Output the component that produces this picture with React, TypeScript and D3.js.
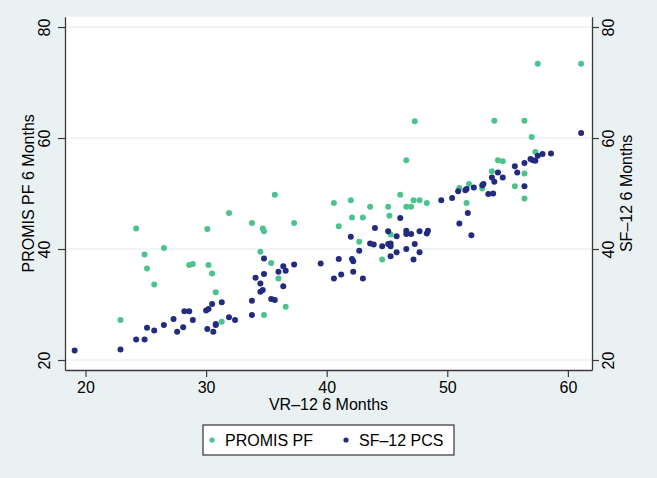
import { useEffect, useRef } from 'react';
import * as d3 from 'd3';

// PROMIS PF 6 months vs VR-12 6 months
const promisX = [24.2, 30.1, 26.5, 24.9, 25.1, 28.6, 28.9, 30.2, 30.5, 25.7, 22.9, 30.8, 31.3, 31.9, 33.8, 34.7, 34.8, 35.7, 37.3, 34.5,
  35.4, 36.0, 34.8, 36.6, 40.6, 41.0, 42.0, 42.1, 43.0, 43.6, 45.1, 45.2, 46.1, 46.6, 47.0, 47.2, 47.7, 48.3, 42.7, 45.3,
  44.6, 47.3, 46.6, 51.0, 51.6, 51.8, 52.9, 53.7, 54.2, 54.6, 53.9, 56.4, 57.5, 61.1, 57.0, 57.3, 56.4, 55.6, 56.4];
const promisY = [43.7, 43.6, 40.2, 39.0, 36.5, 37.1, 37.3, 37.1, 35.6, 33.6, 27.2, 32.2, 26.9, 46.5, 44.7, 43.7, 43.2, 49.8, 44.7, 39.5,
  37.5, 34.7, 28.1, 29.6, 48.3, 44.1, 48.8, 45.7, 45.7, 47.6, 47.6, 46.0, 49.8, 47.6, 47.6, 48.8, 48.8, 48.3, 41.3, 42.6,
  38.1, 63.0, 56.0, 51.0, 48.3, 51.7, 50.9, 54.0, 56.0, 55.8, 63.1, 63.1, 73.4, 73.4, 60.2, 57.5, 53.6, 51.3, 49.1];

// SF-12 PCS 6 months vs VR-12 6 months
const sfX = [19.1, 22.9, 24.2, 24.9, 25.1, 25.7, 26.5, 27.3, 27.6, 28.1, 28.2, 28.6, 28.9, 30.0, 30.2, 30.5, 31.3, 30.1, 30.6, 30.8,
  30.8, 31.9, 32.4, 33.8, 33.8, 34.8, 34.1, 34.5, 34.8, 34.5, 34.7, 35.4, 35.7, 36.0, 36.4, 36.6, 36.4, 37.3, 39.5, 40.6,
  41.2, 42.2, 43.0, 41.0, 42.1, 42.2, 42.7, 42.0, 43.6, 43.9, 44.6, 45.1, 45.3, 45.3, 45.8, 46.6, 47.3, 47.7, 47.2, 45.3,
  44.0, 45.1, 45.8, 46.6, 46.6, 47.0, 47.7, 48.3, 48.4, 46.1, 49.5, 50.4, 50.9, 51.5, 51.6, 51.7, 51.0, 52.0, 52.2, 52.9,
  53.0, 53.4, 53.8, 53.7, 53.9, 54.2, 54.6, 55.6, 55.8, 56.4, 56.4, 56.9, 57.1, 57.3, 57.5, 57.9, 58.6, 61.1];
const sfY = [21.7, 21.9, 23.7, 23.7, 25.8, 25.3, 26.3, 27.4, 25.1, 25.9, 28.8, 28.8, 27.2, 28.9, 29.2, 30.1, 30.4, 25.6, 25.1, 26.3,
  26.5, 27.7, 27.2, 30.7, 28.1, 38.3, 34.8, 33.8, 35.5, 32.3, 32.6, 31.0, 30.8, 35.9, 36.9, 36.1, 33.3, 37.2, 37.4, 34.7,
  35.4, 35.9, 34.7, 38.2, 38.2, 37.8, 39.7, 42.2, 41.0, 40.8, 40.5, 40.9, 41.0, 40.5, 39.4, 40.0, 40.9, 39.4, 38.1, 38.7,
  43.8, 43.2, 42.3, 43.3, 42.7, 42.7, 43.2, 42.8, 43.3, 45.6, 48.8, 49.2, 50.4, 50.6, 50.8, 46.5, 44.6, 42.5, 51.1, 51.5,
  51.7, 49.9, 50.0, 52.9, 52.1, 53.8, 52.9, 54.9, 53.8, 55.5, 51.3, 56.2, 56.0, 55.9, 56.8, 57.1, 57.2, 60.9];

const xTicks = [20, 30, 40, 50, 60];
const yTicks = [20, 40, 60, 80];
const seriesNames = ['PROMIS PF', 'SF\u201312 PCS'];
const seriesColors = ['#4cc38c', '#232b7e'];

const W = 657, H = 478;
const plot = { left: 65, right: 592, top: 16.7, bottom: 370 };
const FONT = '"Liberation Sans", Arial, Helvetica, sans-serif';

export default function App() {
  const ref = useRef<SVGSVGElement>(null);

  useEffect(() => {
    const svg = d3.select(ref.current);
    svg.selectAll('*').remove();

    const x = d3.scaleLinear().domain([18.3, 62]).range([plot.left, plot.right]);
    const y = d3.scaleLinear().domain([18.2, 81.86]).range([plot.bottom, plot.top]);

    svg.append('rect').attr('width', W).attr('height', H).attr('fill', '#eaf1f3');
    svg.append('rect')
      .attr('x', plot.left).attr('y', plot.top)
      .attr('width', plot.right - plot.left).attr('height', plot.bottom - plot.top)
      .attr('fill', '#ffffff');

    // horizontal grid
    svg.append('g').selectAll('line').data(yTicks).enter().append('line')
      .attr('x1', plot.left).attr('x2', plot.right)
      .attr('y1', d => y(d)).attr('y2', d => y(d))
      .attr('stroke', '#e3ecef').attr('stroke-width', 1.2);

    const styleAxis = (g: any) => {
      g.select('.domain').attr('stroke', '#3a3a3a').attr('stroke-width', 1.3);
      g.selectAll('.tick line').attr('stroke', '#3a3a3a').attr('stroke-width', 1.2);
      g.selectAll('.tick text').attr('fill', '#000').style('font-family', FONT).style('font-size', '16px');
    };

    const left = svg.append('g')
      .attr('transform', `translate(${plot.left},0)`)
      .call(d3.axisLeft(y).tickValues(yTicks).tickSize(7).tickSizeOuter(0));
    styleAxis(left);
    left.selectAll('.tick text')
      .attr('x', null).attr('dy', null).attr('text-anchor', 'middle')
      .attr('transform', 'translate(-15,0) rotate(-90)');

    const right = svg.append('g')
      .attr('transform', `translate(${plot.right},0)`)
      .call(d3.axisRight(y).tickValues(yTicks).tickSize(7).tickSizeOuter(0));
    styleAxis(right);
    right.selectAll('.tick text')
      .attr('x', null).attr('dy', null).attr('text-anchor', 'middle')
      .attr('transform', 'translate(22,0) rotate(-90)');

    const bottom = svg.append('g')
      .attr('transform', `translate(0,${plot.bottom})`)
      .call(d3.axisBottom(x).tickValues(xTicks).tickSize(7).tickSizeOuter(0).tickPadding(5));
    styleAxis(bottom);

    const midY = (plot.top + plot.bottom) / 2;
    const midX = (plot.left + plot.right) / 2;
    const title = (txt: string, tx: number, ty: number, rot: boolean) =>
      svg.append('text').text(txt)
        .attr('transform', `translate(${tx},${ty})` + (rot ? ' rotate(-90)' : ''))
        .attr('text-anchor', 'middle')
        .style('font-family', FONT).style('font-size', '16px').attr('fill', '#000');
    title('PROMIS PF 6 Months', 33.5, midY, true);
    title('SF\u201312 6 Months', 632, midY, true);
    title('VR\u201312 6 Months', midX, 410, false);

    // points
    const series = [
      d3.zip(promisX, promisY),
      d3.zip(sfX, sfY),
    ];
    series.forEach((pts, i) => {
      svg.append('g').selectAll('circle').data(pts).enter().append('circle')
        .attr('cx', d => x(d[0])).attr('cy', d => y(d[1]))
        .attr('r', 3).attr('fill', seriesColors[i]);
    });

    // legend
    const lg = svg.append('g');
    lg.append('rect').attr('x', 203).attr('y', 425).attr('width', 251).attr('height', 30)
      .attr('fill', '#fff').attr('stroke', '#333').attr('stroke-width', 1.2);
    const lx = [212, 346];
    seriesNames.forEach((name, i) => {
      lg.append('circle').attr('cx', lx[i]).attr('cy', 440).attr('r', 2.6).attr('fill', seriesColors[i]);
      lg.append('text').text(name).attr('x', lx[i] + 13).attr('y', 445.5)
        .style('font-family', FONT).style('font-size', '16px').attr('fill', '#000');
    });
  }, []);

  return (
    <svg ref={ref} width={W} height={H} style={{ position: 'absolute', left: 0, top: 0 }} />
  );
}
